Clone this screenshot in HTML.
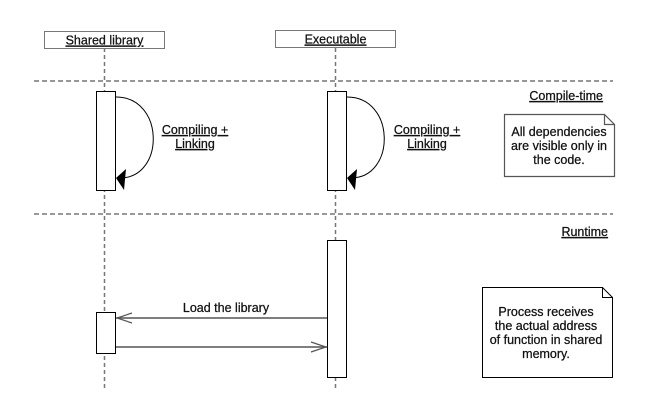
<!DOCTYPE html>
<html><head><meta charset="utf-8"><style>
html,body{margin:0;padding:0;background:#fff;}
svg{display:block;}
text{font-family:"Liberation Sans",Arial,sans-serif;font-size:12.5px;fill:#111;stroke:#111;stroke-width:0.25;}
.u{text-decoration:underline;}
</style></head><body>
<svg width="665" height="410" viewBox="0 0 665 410" xmlns="http://www.w3.org/2000/svg">
<rect width="665" height="410" fill="#fff" stroke="none"/>
<line x1="104.5" y1="48" x2="104.5" y2="390" stroke="#777" stroke-width="1.5" stroke-dasharray="4,3"/>
<line x1="335.5" y1="48" x2="335.5" y2="390" stroke="#777" stroke-width="1.5" stroke-dasharray="4,3"/>
<rect x="44.5" y="31.5" width="120" height="17" fill="#fff" stroke="#777" stroke-width="1"/>
<text class="u" x="104.5" y="44.5" text-anchor="middle">Shared library</text>
<rect x="275.5" y="30.5" width="120" height="17" fill="#fff" stroke="#777" stroke-width="1"/>
<text class="u" x="335.5" y="43.5" text-anchor="middle">Executable</text>
<line x1="34" y1="81" x2="613" y2="81" stroke="#777" stroke-width="1.5" stroke-dasharray="5,3"/>
<line x1="34" y1="214" x2="613" y2="214" stroke="#777" stroke-width="1.5" stroke-dasharray="5,3"/>
<text class="u" x="603" y="100" text-anchor="end">Compile-time</text>
<text class="u" x="608" y="236" text-anchor="end">Runtime</text>
<rect x="96.5" y="91.5" width="19" height="99" fill="#fff" stroke="#000"/>
<rect x="327.5" y="91.5" width="19" height="99" fill="#fff" stroke="#000"/>
<rect x="327.5" y="240.5" width="19" height="137" fill="#fff" stroke="#000"/>
<rect x="96.5" y="312.5" width="19" height="41" fill="#fff" stroke="#000"/>
<path d="M116 97 C165 97 165 178 120 178" fill="none" stroke="#000" stroke-width="1"/>
<polygon points="116,178 126,169 124,190" fill="#000"/>
<path d="M347 97 C396 97 396 178 351 178" fill="none" stroke="#000" stroke-width="1"/>
<polygon points="347,178 357,169 355,190" fill="#000"/>
<text class="u" x="195" y="134" text-anchor="middle">Compiling +</text>
<text class="u" x="195" y="148" text-anchor="middle">Linking</text>
<text class="u" x="427" y="134" text-anchor="middle">Compiling +</text>
<text class="u" x="427" y="148" text-anchor="middle">Linking</text>
<path d="M504.5 114.5 H604.5 L614.5 124.5 V176.5 H504.5 Z M604.5 114.5 V124.5 H614.5" fill="#fff" stroke="#555" stroke-width="1.2"/>
<text x="559" y="136" text-anchor="middle">All dependencies</text>
<text x="559" y="150" text-anchor="middle">are visible only in</text>
<text x="559" y="164" text-anchor="middle">the code.</text>
<path d="M482.5 287.5 H602.5 L612.5 297.5 V377.5 H482.5 Z M602.5 287.5 V297.5 H612.5" fill="#fff" stroke="#000" stroke-width="1"/>
<text x="546" y="316" text-anchor="middle">Process receives</text>
<text x="546" y="330" text-anchor="middle">the actual address</text>
<text x="546" y="344" text-anchor="middle">of function in shared</text>
<text x="546" y="358" text-anchor="middle">memory.</text>
<line x1="116" y1="318" x2="327" y2="318" stroke="#555" stroke-width="1.5"/>
<polyline points="132,313 117,318 132,323" fill="none" stroke="#555" stroke-width="1.2"/>
<text x="226" y="312" text-anchor="middle">Load the library</text>
<line x1="116" y1="347" x2="327" y2="347" stroke="#555" stroke-width="1.5"/>
<polyline points="311,342 326,347 311,352" fill="none" stroke="#555" stroke-width="1.2"/>
</svg>
</body></html>
